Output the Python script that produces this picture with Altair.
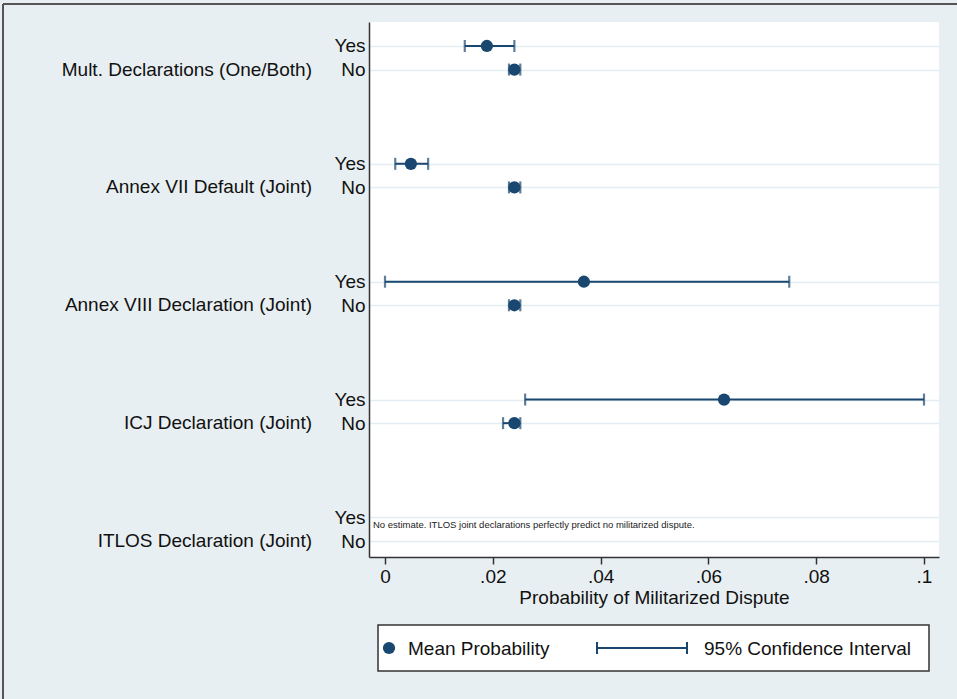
import altair as alt
import pandas as pd

# ---- data ----
groups = [
    "Mult. Declarations (One/Both)",
    "Annex VII Default (Joint)",
    "Annex VIII Declaration (Joint)",
    "ICJ Declaration (Joint)",
    "ITLOS Declaration (Joint)",
]
yes_mean = [0.0189, 0.0048, 0.0369, 0.0629, None]
yes_lo = [0.0148, 0.0019, 0.0000, 0.0260, None]
yes_hi = [0.0240, 0.0080, 0.0750, 0.1000, None]
no_mean = [0.0240, 0.0240, 0.0240, 0.0240, None]
no_lo = [0.0230, 0.0230, 0.0230, 0.0219, None]
no_hi = [0.0251, 0.0251, 0.0251, 0.0251, None]
x_ticks = [0, 0.02, 0.04, 0.06, 0.08, 0.1]
note_text = ["No estimate. ITLOS joint declarations perfectly predict no militarized dispute."]
legend_labels = ["Mean Probability", "95% Confidence Interval"]
x_title = "Probability of Militarized Dispute"

NAVY = "#1a476f"
FONT = "Liberation Sans"

rows = []
for i, g in enumerate(groups):
    for lvl, m, lo, hi, off in (("Yes", yes_mean[i], yes_lo[i], yes_hi[i], 0),
                                ("No", no_mean[i], no_lo[i], no_hi[i], 1)):
        if m is not None:
            rows.append({"group": g, "level": lvl, "pos": 5 * i + off,
                         "mean": m, "lo": lo, "hi": hi})
df = pd.DataFrame(rows)
grp_df = pd.DataFrame({"group": groups, "pos": [5 * i + 1 for i in range(len(groups))]})
y_vals = [5 * i + o for i in range(len(groups)) for o in (0, 1)]

xscale = alt.Scale(domain=[-0.00297, 0.10278], nice=False, zero=False)
yscale = alt.Scale(domain=[-1.017, 21.678], nice=False, zero=False, reverse=True)

x_enc = alt.X("lo:Q", scale=xscale, title=x_title,
              axis=alt.Axis(values=x_ticks, grid=False,
                            labelExpr="datum.value == 0 ? '0' : datum.value >= 0.1 ? '.1' : '.0' + round(datum.value*100)",
                            labelFontSize=19, labelFont=FONT, labelColor="#111",
                            labelPadding=3, tickSize=7, tickColor="#333", tickWidth=1.5,
                            domainColor="#333", domainWidth=1.5,
                            titleFontSize=19, titleFont=FONT, titleFontWeight="normal",
                            titleColor="#111", titlePadding=2))
y_enc = alt.Y("pos:Q", scale=yscale, title=None,
              axis=alt.Axis(values=y_vals, ticks=False, grid=True,
                            gridColor="#e4edf1", gridWidth=1.5,
                            labelExpr="datum.value % 5 == 0 ? 'Yes' : 'No'",
                            labelFontSize=19, labelFont=FONT, labelColor="#111",
                            labelPadding=4, domainColor="#333", domainWidth=1.5))

base = alt.Chart(df)
ci = base.mark_rule(color=NAVY, strokeWidth=2).encode(x=x_enc, x2="hi:Q", y=y_enc)
cap_lo = base.mark_tick(orient="vertical", color=NAVY, size=12, thickness=2.2).encode(
    x=alt.X("lo:Q", scale=xscale), y=alt.Y("pos:Q", scale=yscale))
cap_hi = base.mark_tick(orient="vertical", color=NAVY, size=12, thickness=2.2).encode(
    x=alt.X("hi:Q", scale=xscale), y=alt.Y("pos:Q", scale=yscale))
pts = base.mark_circle(color=NAVY, size=150, opacity=1).encode(
    x=alt.X("mean:Q", scale=xscale), y=alt.Y("pos:Q", scale=yscale))

glabels = alt.Chart(grp_df).mark_text(align="right", baseline="middle", fontSize=19,
                                      font=FONT, color="#111").encode(
    x=alt.value(-57), y=alt.Y("pos:Q", scale=yscale), text="group:N")

note = alt.Chart(pd.DataFrame({"t": note_text})).mark_text(
    align="left", baseline="middle", fontSize=9.5, font=FONT, color="#222").encode(
    x=alt.value(4), y=alt.value(503), text="t:N")

# legend (drawn)
one = pd.DataFrame({"a": [0]})
leg_box = alt.Chart(one).mark_rect(fill="white", stroke="#333", strokeWidth=1.5).encode(
    x=alt.value(9), x2=alt.value(560), y=alt.value(603), y2=alt.value(649))
leg_dot = alt.Chart(one).mark_circle(color=NAVY, size=150, opacity=1).encode(
    x=alt.value(20), y=alt.value(626))
leg_line = alt.Chart(one).mark_rule(color=NAVY, strokeWidth=2).encode(
    x=alt.value(228), x2=alt.value(318), y=alt.value(626))
leg_c1 = alt.Chart(one).mark_rule(color=NAVY, strokeWidth=2).encode(
    x=alt.value(228), y=alt.value(620), y2=alt.value(632))
leg_c2 = alt.Chart(one).mark_rule(color=NAVY, strokeWidth=2).encode(
    x=alt.value(318), y=alt.value(620), y2=alt.value(632))
leg_t1 = alt.Chart(pd.DataFrame({"t": [legend_labels[0]]})).mark_text(
    align="left", baseline="middle", fontSize=19, font=FONT, color="#111").encode(
    x=alt.value(39), y=alt.value(627), text="t:N")
leg_t2 = alt.Chart(pd.DataFrame({"t": [legend_labels[1]]})).mark_text(
    align="left", baseline="middle", fontSize=19, font=FONT, color="#111").encode(
    x=alt.value(335), y=alt.value(627), text="t:N")

# outer frame (top and left edges visible)
frame_top = alt.Chart(one).mark_rule(color="#555", strokeWidth=2).encode(
    x=alt.value(-366), x2=alt.value(600), y=alt.value(-18))
frame_left = alt.Chart(one).mark_rule(color="#555", strokeWidth=2).encode(
    x=alt.value(-366), y=alt.value(-18), y2=alt.value(700))

chart = alt.layer(
    ci, cap_lo, cap_hi, pts, glabels, note,
    leg_box, leg_dot, leg_line, leg_c1, leg_c2, leg_t1, leg_t2,
    frame_top, frame_left,
).properties(
    width=570, height=535,
    padding={"left": 369, "top": 22, "right": 18, "bottom": 142},
    autosize=alt.AutoSizeParams(type="none"),
    background="#e8eff2",
).configure_view(fill="white", strokeWidth=0)

chart.save("out.html", embed_options={"renderer": "svg", "actions": False})
